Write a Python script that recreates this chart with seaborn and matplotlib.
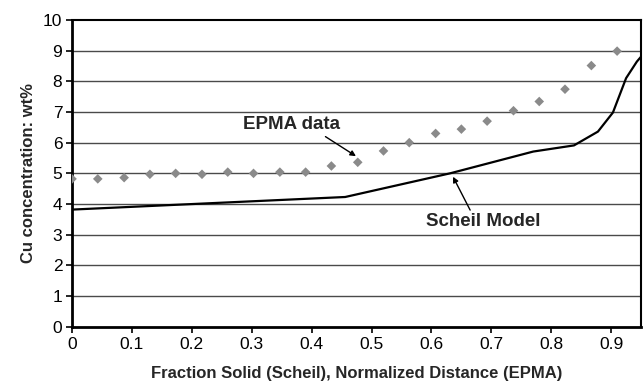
import matplotlib
matplotlib.use("Agg")
import numpy as np
import pandas as pd
import matplotlib.pyplot as plt
import seaborn as sns

# EPMA measurements (normalized distance, wt% Cu)
epma_x = [0.0, 0.043, 0.087, 0.130, 0.173, 0.217, 0.260, 0.303, 0.347, 0.390, 0.433,
          0.477, 0.520, 0.563, 0.607, 0.650, 0.693, 0.737, 0.780, 0.823, 0.867, 0.910]
epma_cu = [4.82, 4.82, 4.86, 4.97, 5.00, 4.97, 5.04, 5.00, 5.04, 5.04, 5.24,
           5.36, 5.73, 6.00, 6.30, 6.44, 6.70, 7.04, 7.34, 7.74, 8.51, 8.98]

# Scheil model curve (fraction solid, wt% Cu)
scheil_fs = [0.0, 0.456, 0.631, 0.77, 0.838, 0.878, 0.903, 0.925, 0.943, 0.95]
scheil_cu = [3.82, 4.23, 5.00, 5.71, 5.91, 6.36, 6.98, 8.10, 8.64, 8.80]

epma = pd.DataFrame({"x": epma_x, "cu": epma_cu})
scheil = pd.DataFrame({"x": scheil_fs, "cu": scheil_cu})

sns.set_style("white")
plt.rcParams["font.family"] = ["Liberation Sans", "DejaVu Sans"]

fig = plt.figure(figsize=(6.43, 3.81), dpi=100)
ax = fig.add_axes([0.112, 0.142, 0.885, 0.806])

# horizontal gridlines
for yv in range(1, 10):
    ax.axhline(yv, color="#4a4a4a", lw=1.0, zorder=0)

sns.lineplot(data=scheil, x="x", y="cu", ax=ax, color="black", lw=1.6,
             sort=False, estimator=None, zorder=3)
sns.scatterplot(data=epma, x="x", y="cu", ax=ax, marker="D", s=24,
                color="#8a8a8a", edgecolor="none", zorder=4)

ax.set_xlim(0, 0.95)
ax.set_ylim(0, 10)
ax.set_xticks(np.arange(0, 0.91, 0.1))
ax.set_xticklabels(["0", "0.1", "0.2", "0.3", "0.4", "0.5", "0.6", "0.7", "0.8", "0.9"])
ax.set_yticks(range(0, 11))
ax.tick_params(axis="both", direction="out", length=4, width=1.2, labelsize=12.5,
               colors="black", bottom=True, left=True, pad=3)

for side in ["left", "bottom"]:
    ax.spines[side].set_linewidth(2.0)
for side in ["top", "right"]:
    ax.spines[side].set_linewidth(1.5)
for s in ax.spines.values():
    s.set_color("black")

ax.set_xlabel("Fraction Solid (Scheil), Normalized Distance (EPMA)",
              fontsize=12, fontweight="bold", labelpad=10)
ax.set_ylabel("Cu concentration: wt%", fontsize=12, fontweight="bold", labelpad=5)

ax.annotate("EPMA data", xy=(0.474, 5.56), xytext=(0.285, 6.58),
            fontsize=13.5, fontweight="bold", va="center", ha="left",
            arrowprops=dict(arrowstyle="-|>", color="black", lw=1,
                            mutation_scale=8, shrinkA=0, shrinkB=0,
                            relpos=(0.8, 0.0)))
ax.annotate("Scheil Model", xy=(0.636, 4.89), xytext=(0.591, 3.42),
            fontsize=13.5, fontweight="bold", va="center", ha="left",
            arrowprops=dict(arrowstyle="-|>", color="black", lw=1,
                            mutation_scale=8, shrinkA=0, shrinkB=0,
                            relpos=(0.4, 1.0)))

fig.savefig("out.png", dpi=100)
